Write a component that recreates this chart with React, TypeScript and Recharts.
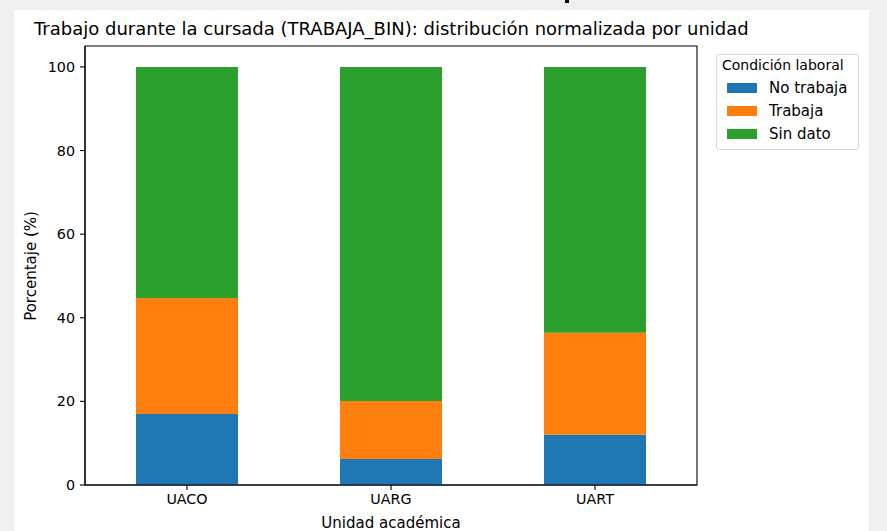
import { BarChart, Bar, XAxis, YAxis, ReferenceArea } from "recharts";

const units = ["UACO", "UARG", "UART"];
const noTrabaja = [17.0, 6.2, 12.0];
const trabaja = [27.7, 13.9, 24.4];
const sinDato = [55.3, 79.9, 63.6];
const yTicks = [0, 20, 40, 60, 80, 100];

const series = [
  { key: "noTrabaja", label: "No trabaja", color: "#1f77b4" },
  { key: "trabaja", label: "Trabaja", color: "#ff7f0e" },
  { key: "sinDato", label: "Sin dato", color: "#2ca02c" },
];

const data = units.map((u, i) => ({
  unit: u,
  noTrabaja: noTrabaja[i],
  trabaja: trabaja[i],
  sinDato: sinDato[i],
}));

const font = "'DejaVu Sans', sans-serif";
const tick = { fontSize: 14.3, fill: "#000", fontFamily: font };
const axisLine = { stroke: "#000", strokeWidth: 1.1 };

export default function App() {
  return (
    <div
      style={{
        position: "absolute",
        left: 0,
        top: 0,
        width: 887,
        height: 531,
        background: "#efefef",
        overflow: "hidden",
        fontFamily: font,
      }}
    >
      <div style={{ position: "absolute", left: 565, top: 0, width: 4, height: 3, background: "#000" }} />
      <div style={{ position: "absolute", left: 14, top: 10, width: 855, height: 521, background: "#fff" }}>
        <BarChart
          width={855}
          height={521}
          data={data}
          margin={{ top: 36, right: 172, bottom: 16, left: 21 }}
          barSize={102}
        >
          <XAxis
            dataKey="unit"
            tick={tick}
            tickSize={5}
            tickMargin={4}
            axisLine={axisLine}
            tickLine={axisLine}
            height={30}
          />
          <YAxis
            domain={[0, 105]}
            ticks={yTicks}
            tick={tick}
            tickSize={5}
            tickMargin={5}
            axisLine={axisLine}
            tickLine={axisLine}
            width={50}
          />
          {series.map((s) => (
            <Bar key={s.key} dataKey={s.key} stackId="a" fill={s.color} isAnimationActive={false} />
          ))}
          <ReferenceArea
            x1={units[0]}
            x2={units[units.length - 1]}
            y1={0}
            y2={105}
            fill="none"
            fillOpacity={0}
            stroke="#000"
            strokeWidth={1.1}
            strokeOpacity={1}
            ifOverflow="visible"
          />
        </BarChart>
      </div>
      <div style={{ position: "absolute", left: 34, top: 18, fontSize: 18, color: "#000", whiteSpace: "nowrap" }}>
        Trabajo durante la cursada (TRABAJA_BIN): distribución normalizada por unidad
      </div>
      <div
        style={{
          position: "absolute",
          left: 31,
          top: 266,
          fontSize: 15,
          whiteSpace: "nowrap",
          transform: "translate(-50%, -50%) rotate(-90deg)",
        }}
      >
        Porcentaje (%)
      </div>
      <div
        style={{
          position: "absolute",
          left: 391,
          top: 523,
          fontSize: 15,
          whiteSpace: "nowrap",
          transform: "translate(-50%, -50%)",
        }}
      >
        Unidad académica
      </div>
      <div
        style={{
          position: "absolute",
          left: 716,
          top: 54,
          width: 141,
          height: 94,
          border: "1px solid #d6d6d6",
          borderRadius: 3,
          background: "#fff",
        }}
      >
        <div style={{ position: "absolute", left: 5, top: 2, fontSize: 14, whiteSpace: "nowrap" }}>Condición laboral</div>
        {series.map((s, i) => (
          <div
            key={s.key}
            style={{
              position: "absolute",
              left: 10,
              top: 24 + i * 23,
              fontSize: 15,
              display: "flex",
              alignItems: "center",
              whiteSpace: "nowrap",
            }}
          >
            <div style={{ width: 30, height: 10, background: s.color, marginRight: 12 }} />
            {s.label}
          </div>
        ))}
      </div>
    </div>
  );
}
